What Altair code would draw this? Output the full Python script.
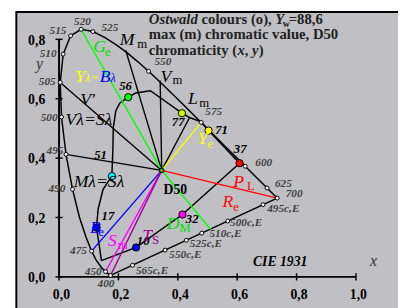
import altair as alt
import pandas as pd

FONT = "Liberation Serif"
# plot window in chromaticity units (matches 303 px per unit)
X0, X1 = -0.17195, 1.14158
Y0, Y1 = -0.09472, 0.89538

# ---------------- spectral locus CIE 1931 ----------------
locus_nm = [400, 410, 420, 430, 440, 450, 460, 470, 475, 480, 485, 490, 495, 500, 505, 510,
            515, 520, 525, 530, 535, 540, 545, 550, 555, 560, 565, 570, 575, 580, 585, 590,
            595, 600, 610, 620, 625, 630, 640, 650, 660, 680, 700]
locus_x = [0.1733, 0.1726, 0.1714, 0.1689, 0.1644, 0.1566, 0.1440, 0.1241, 0.1096, 0.0913,
           0.0687, 0.0454, 0.0235, 0.0082, 0.0039, 0.0139, 0.0389, 0.0743, 0.1142, 0.1547,
           0.1929, 0.2296, 0.2658, 0.3016, 0.3373, 0.3731, 0.4087, 0.4441, 0.4788, 0.5125,
           0.5448, 0.5752, 0.6029, 0.6270, 0.6658, 0.6915, 0.7006, 0.7079, 0.7190, 0.7260,
           0.7300, 0.7334, 0.7347]
locus_y = [0.0048, 0.0048, 0.0051, 0.0069, 0.0109, 0.0177, 0.0297, 0.0578, 0.0868, 0.1327,
           0.2007, 0.2950, 0.4127, 0.5384, 0.6548, 0.7502, 0.8120, 0.8338, 0.8262, 0.8059,
           0.7816, 0.7543, 0.7243, 0.6923, 0.6589, 0.6245, 0.5896, 0.5547, 0.5202, 0.4866,
           0.4544, 0.4242, 0.3965, 0.3725, 0.3340, 0.3083, 0.2993, 0.2920, 0.2809, 0.2740,
           0.2700, 0.2666, 0.2653]

marker_nm = [400, 450, 475, 490, 495, 500, 505, 510, 515, 520, 525, 550, 575, 600, 625, 700]
marker_lab_x = [0.1581, 0.1152, 0.0657, -0.0069, -0.0135, -0.0333, -0.0399, -0.0366, -0.0036,
                0.0789, 0.1713, 0.3495, 0.5211, 0.6894, 0.7554, 0.7917]
marker_lab_y = [-0.0254, 0.0175, 0.0868, 0.2947, 0.4234, 0.5356, 0.6545, 0.7502, 0.8294,
                0.8591, 0.8393, 0.7236, 0.5554, 0.3838, 0.3113, 0.2782]

# compensatory wavelengths on the purple line
comp_lab = ["565c,E", "550c,E", "525c,E", "510c,E", "500c,E", "495c,E"]
comp_x = [0.2472, 0.3571, 0.4287, 0.4805, 0.5683, 0.6871]
comp_y = [0.0391, 0.0901, 0.1233, 0.1473, 0.1881, 0.2432]
comp_lab_x = [0.3132, 0.4254, 0.4947, 0.5607, 0.6300, 0.7554]
comp_lab_y = [0.0208, 0.0736, 0.1099, 0.1429, 0.1825, 0.2287]

D50 = (0.3457, 0.3585)

# Ostwald colours with max chromatic value
ost_lab = ["56", "77", "71", "37", "32", "10", "17", "51"]
ost_x = [0.2330, 0.4139, 0.5036, 0.6079, 0.4155, 0.2594, 0.1261, 0.1779]
ost_y = [0.6050, 0.5512, 0.4927, 0.3828, 0.2099, 0.0990, 0.1660, 0.3393]
ost_col = ["#00ff00", "#ccff00", "#ffff00", "#ff0000", "#ff00ff", "#0000ff", "#0000ff", "#00ffff"]
ost_lab_x = [0.2241, 0.4013, 0.5475, 0.6102, 0.4485, 0.2835, 0.1647, 0.1399]
ost_lab_y = [0.6429, 0.5201, 0.4927, 0.4300, 0.1957, 0.1215, 0.2040, 0.4102]

# boundary of the max-chromatic-value colours
bnd_x = [0.1426, 0.1366, 0.1261, 0.1317, 0.1482, 0.1779, 0.1812, 0.1828, 0.1911, 0.2043, 0.2330,
         0.2581, 0.3076, 0.4139, 0.4396, 0.4782, 0.5036, 0.6079, 0.4155, 0.2594, 0.1426]
bnd_y = [0.0548, 0.0967, 0.1660, 0.2287, 0.2947, 0.3393, 0.4267, 0.5036, 0.5587, 0.5851, 0.6050,
         0.6191, 0.6271, 0.5512, 0.5366, 0.5224, 0.4927, 0.3828, 0.2099, 0.0990, 0.0548]

# rays from D50
ray_x2 = [0.0039, 0.0235, 0.2244, 0.3406, 0.4396, 0.0743, 0.5112, 0.4788, 0.7347, 0.1096, 0.1566, 0.1733]
ray_y2 = [0.6548, 0.4127, 0.7634, 0.6611, 0.5366, 0.8338, 0.1594, 0.5202, 0.2653, 0.0868, 0.0177, 0.0048]
ray_col = ["black", "black", "black", "black", "black", "#00ff00", "#00ff00", "#ffff00", "#ff0000",
           "#0000ff", "#ff00ff", "#990099"]

x_ticks = [0.0, 0.2, 0.4, 0.6, 0.8, 1.0]
x_tick_lab = ["0,0", "0,2", "0,4", "0,6", "0,8", "1,0"]
y_ticks = [0.0, 0.2, 0.4, 0.6, 0.8]
y_tick_lab = ["0,0", "0,2", "0,4", "0,6", "0,8"]

# letter labels: (text, x, y, colour)
big_lab = [("G", 0.1152, 0.7568, "#00dd00"), ("M", 0.2043, 0.7799, "black"),
           ("V", 0.3413, 0.6578, "black"), ("L", 0.4343, 0.5818, "black"),
           ("Y", 0.4673, 0.4488, "#ffff00"), ("P", 0.5871, 0.3013, "#ff0000"),
           ("R", 0.5508, 0.2353, "#ff0000"), ("D", 0.3627, 0.1627, "#00dd00"),
           ("T", 0.2802, 0.1198, "#990099"), ("S", 0.1647, 0.1033, "#ff00ff"),
           ("B", 0.1043, 0.1462, "#0000ff"), ("Y", 0.0548, 0.6577, "#ffff00"),
           ("B", 0.1373, 0.6577, "#0000ff"), ("V'", 0.0713, 0.5786, "black"),
           ("Vλ=Sλ", 0.0218, 0.5125, "black"), ("Mλ=Sλ", 0.0492, 0.3013, "black")]
sub_lab = [("e", 0.1548, 0.7436, "#00dd00"), ("m", 0.2637, 0.7700, "black"),
           ("m", 0.3825, 0.6485, "black"), ("m", 0.4726, 0.5736, "black"),
           ("e", 0.5003, 0.4333, "#ffff00"), ("L", 0.6333, 0.2914, "#ff0000"),
           ("e", 0.5871, 0.2221, "#ff0000"), ("M", 0.4056, 0.1495, "#00dd00"),
           ("S", 0.3132, 0.1099, "#990099"), ("m", 0.1977, 0.0934, "#ff00ff"),
           ("e", 0.1317, 0.1363, "#0000ff")]
lam_lab = [("λ=", 0.0878, 0.6577, "#ffff00"), ("λ", 0.1736, 0.6577, "#0000ff")]

# title pieces: (text, x, y, size, style)
title_parts = [("Ostwald", 0.3023, 0.8508, 15, "italic"), ("colours (o),", 0.4799, 0.8508, 15, "normal"),
               ("Y", 0.7281, 0.8508, 15, "italic"), ("w", 0.7538, 0.8409, 10, "normal"),
               ("=88,6", 0.7736, 0.8508, 15, "normal"),
               ("max (m) chromatic value, D50", 0.3023, 0.7997, 15, "normal"),
               ("chromaticity (", 0.3023, 0.7485, 15, "normal"), ("x", 0.6007, 0.7485, 15, "italic"),
               (",", 0.6254, 0.7485, 15, "normal"), ("y", 0.6502, 0.7485, 15, "italic"),
               (")", 0.6723, 0.7485, 15, "normal")]

# ---------------------------------------------------------------------------
xs = alt.Scale(domain=[X0, X1], nice=False, zero=False)
ys = alt.Scale(domain=[Y0, Y1], nice=False, zero=False)


def X(f):
    return alt.X(f, type="quantitative", scale=xs, axis=None)


def Y(f):
    return alt.Y(f, type="quantitative", scale=ys, axis=None)


def X2(f):
    return alt.X2(f)


def Y2(f):
    return alt.Y2(f)


layers = []

bg = pd.DataFrame({"x": [-0.1439], "x2": [1.16], "y": [0.8921], "y2": [-0.11]})
layers.append(alt.Chart(bg).mark_rect(fill="#c0c0c4", stroke="black", strokeWidth=2).encode(
    x=X("x"), x2=X2("x2"), y=Y("y"), y2=Y2("y2")))

# axes
ax = pd.DataFrame({"x": [0.0, 0.0], "y": [0.0, 0.0], "x2": [1.0, 0.0], "y2": [0.0, 0.8]})
layers.append(alt.Chart(ax).mark_rule(color="black", strokeWidth=2).encode(
    x=X("x"), y=Y("y"), x2=X2("x2"), y2=Y2("y2")))
xt = pd.DataFrame({"x": x_ticks, "lab": x_tick_lab})
xt["ya"] = -0.012
xt["yb"] = 0.012
xt["xl"] = xt["x"] + 0.008
xt["yl"] = -0.0733
layers.append(alt.Chart(xt).mark_rule(color="black", strokeWidth=1.5).encode(
    x=X("x"), y=Y("ya"), y2=Y2("yb")))
layers.append(alt.Chart(xt).mark_text(font=FONT, fontSize=14, fontWeight="bold", align="center",
                                      baseline="alphabetic", color="black").encode(
    x=X("xl"), y=Y("yl"), text="lab"))
yt = pd.DataFrame({"y": y_ticks, "lab": y_tick_lab})
yt["xa"] = -0.012
yt["xb"] = 0.012
yt["xl"] = -0.0465
yt["yl"] = yt["y"] - 0.018
layers.append(alt.Chart(yt).mark_rule(color="black", strokeWidth=1.5).encode(
    y=Y("y"), x=X("xa"), x2=X2("xb")))
layers.append(alt.Chart(yt).mark_text(font=FONT, fontSize=14, fontWeight="bold", align="right",
                                      baseline="alphabetic", color="black").encode(
    x=X("xl"), y=Y("yl"), text="lab"))

# spectral locus + purple line
loc = pd.DataFrame({"x": locus_x, "y": locus_y, "i": range(len(locus_x))})
layers.append(alt.Chart(loc).mark_line(color="black", strokeWidth=1.5).encode(
    x=X("x"), y=Y("y"), order="i:Q"))
pl = pd.DataFrame({"x": [locus_x[0]], "y": [locus_y[0]], "x2": [locus_x[-1]], "y2": [locus_y[-1]]})
layers.append(alt.Chart(pl).mark_rule(color="black", strokeWidth=1.5).encode(
    x=X("x"), y=Y("y"), x2=X2("x2"), y2=Y2("y2")))

# boundary of Ostwald colours
bd = pd.DataFrame({"x": bnd_x, "y": bnd_y, "i": range(len(bnd_x))})
layers.append(alt.Chart(bd).mark_line(color="black", strokeWidth=1.5).encode(
    x=X("x"), y=Y("y"), order="i:Q"))

# rays
rays = pd.DataFrame({"x2": ray_x2, "y2": ray_y2, "c": ray_col})
rays["x"] = D50[0]
rays["y"] = D50[1]
layers.append(alt.Chart(rays).mark_rule(strokeWidth=1.4).encode(
    x=X("x"), y=Y("y"), x2=X2("x2"), y2=Y2("y2"), color=alt.Color("c:N", scale=None)))

# white markers on locus
mk = pd.DataFrame({"nm": marker_nm})
mk["x"] = [locus_x[locus_nm.index(n)] for n in marker_nm]
mk["y"] = [locus_y[locus_nm.index(n)] for n in marker_nm]
mk["lx"] = marker_lab_x
mk["ly"] = marker_lab_y
cm = pd.DataFrame({"x": comp_x, "y": comp_y, "lab": comp_lab, "lx": comp_lab_x, "ly": comp_lab_y})
for d in (mk, cm):
    layers.append(alt.Chart(d).mark_circle(fill="white", stroke="black", strokeWidth=1, size=16,
                                           opacity=1).encode(x=X("x"), y=Y("y")))
layers.append(alt.Chart(mk).mark_text(font=FONT, fontSize=11.5, fontWeight="bold", fontStyle="italic",
                                      color="#404040", align="center", baseline="middle").encode(
    x=X("lx"), y=Y("ly"), text="nm:N"))
layers.append(alt.Chart(cm).mark_text(font=FONT, fontSize=11.5, fontWeight="bold", fontStyle="italic",
                                      color="#404040", align="center", baseline="middle").encode(
    x=X("lx"), y=Y("ly"), text="lab"))

# D50 point
dp = pd.DataFrame({"x": [D50[0]], "y": [D50[1]]})
layers.append(alt.Chart(dp).mark_circle(fill="#60a000", stroke="black", strokeWidth=1, size=22,
                                        opacity=1).encode(x=X("x"), y=Y("y")))

# Ostwald points
op = pd.DataFrame({"x": ost_x, "y": ost_y, "c": ost_col, "lab": ost_lab, "lx": ost_lab_x, "ly": ost_lab_y})
layers.append(alt.Chart(op).mark_circle(stroke="black", strokeWidth=1, size=55, opacity=1).encode(
    x=X("x"), y=Y("y"), fill=alt.Fill("c:N", scale=None)))
layers.append(alt.Chart(op).mark_text(font=FONT, fontSize=13, fontWeight="bold", fontStyle="italic",
                                      color="black", align="center", baseline="middle").encode(
    x=X("lx"), y=Y("ly"), text="lab"))

# letter labels
bl = pd.DataFrame(big_lab, columns=["t", "x", "y", "c"])
layers.append(alt.Chart(bl).mark_text(font=FONT, fontSize=18, fontStyle="italic", align="left",
                                      baseline="alphabetic").encode(
    x=X("x"), y=Y("y"), text="t", color=alt.Color("c:N", scale=None)))
sl = pd.DataFrame(sub_lab, columns=["t", "x", "y", "c"])
layers.append(alt.Chart(sl).mark_text(font=FONT, fontSize=13, align="left",
                                      baseline="alphabetic").encode(
    x=X("x"), y=Y("y"), text="t", color=alt.Color("c:N", scale=None)))
ll = pd.DataFrame(lam_lab, columns=["t", "x", "y", "c"])
layers.append(alt.Chart(ll).mark_text(font=FONT, fontSize=12.5, fontStyle="italic", align="left",
                                      baseline="alphabetic").encode(
    x=X("x"), y=Y("y"), text="t", color=alt.Color("c:N", scale=None)))

# D50 label, CIE 1931, axis names
misc = pd.DataFrame({"t": ["D50"], "x": [0.3518], "y": [0.2782]})
layers.append(alt.Chart(misc).mark_text(font=FONT, fontSize=14, fontWeight="bold", align="left",
                                        baseline="alphabetic", color="black").encode(
    x=X("x"), y=Y("y"), text="t"))
cie = pd.DataFrame({"t": ["CIE 1931"], "x": [0.6531], "y": [0.0373]})
layers.append(alt.Chart(cie).mark_text(font=FONT, fontSize=14, fontWeight="bold", fontStyle="italic",
                                       align="left", baseline="alphabetic", color="black").encode(
    x=X("x"), y=Y("y"), text="t"))
an = pd.DataFrame({"t": ["x", "y"], "x": [1.059, -0.0663], "y": [0.0373, 0.7007]})
layers.append(alt.Chart(an).mark_text(font=FONT, fontSize=16, fontStyle="italic", align="center",
                                      baseline="alphabetic", color="#333333").encode(
    x=X("x"), y=Y("y"), text="t"))

# title
for style in ("normal", "italic"):
    for size in (15, 10):
        rows = [p for p in title_parts if p[4] == style and p[3] == size]
        if not rows:
            continue
        td = pd.DataFrame(rows, columns=["t", "x", "y", "s", "st"])
        layers.append(alt.Chart(td).mark_text(font=FONT, fontSize=size, fontWeight="bold",
                                              fontStyle=style, align="left", baseline="alphabetic",
                                              color="#222222").encode(
            x=X("x"), y=Y("y"), text="t"))

chart = alt.layer(*layers).properties(
    width=398, height=300, padding=0, autosize=alt.AutoSizeParams(type="none"),
    background="white"
).configure_view(strokeWidth=0)

chart.save("out.html", embed_options={"renderer": "svg", "actions": False})
